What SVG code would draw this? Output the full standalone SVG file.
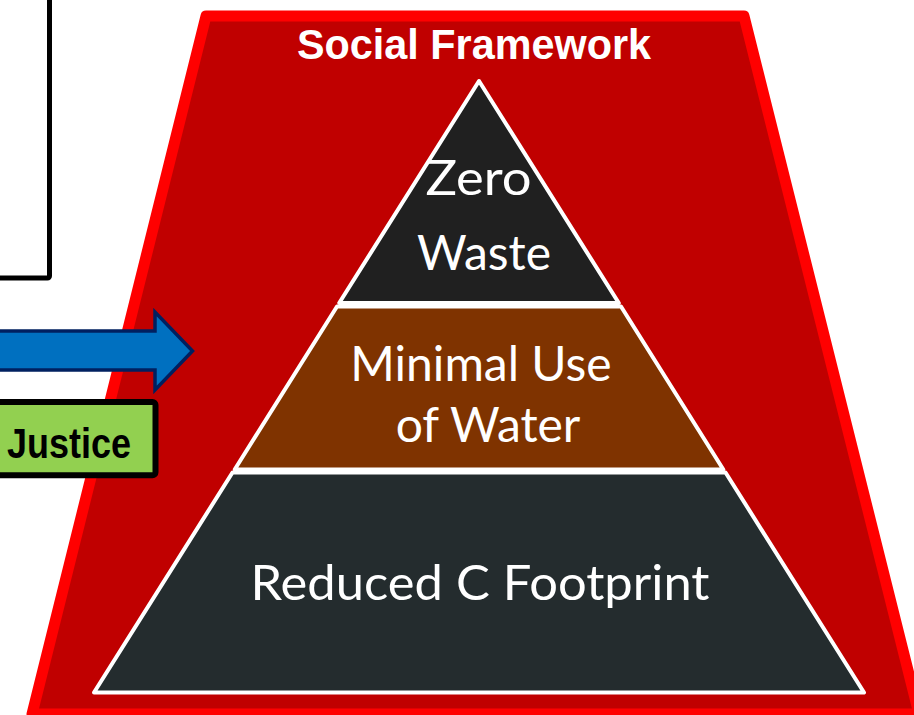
<svg xmlns="http://www.w3.org/2000/svg" width="914" height="715" viewBox="0 0 914 715">
  <style>
    .frame { fill: #C00000; stroke: #FF0000; stroke-width: 11; stroke-linejoin: round; }
    .seg { stroke: #FFFFFF; stroke-width: 4; stroke-linejoin: round; }
    .lvl { font-family: Lato, "Open Sans", "Liberation Sans", sans-serif; font-size: 48px; fill: #FFFFFF; text-anchor: middle; }
    .bold { font-family: "Liberation Sans", Arial, sans-serif; font-weight: bold; }
  </style>
  <rect width="914" height="715" fill="#FFFFFF"/>

  <g id="social-framework">
    <polygon class="frame" points="206,16 744,16 919,714 32,714"/>
    <text class="bold" x="474" y="59" font-size="43" fill="#FFFFFF" text-anchor="middle" textLength="354" lengthAdjust="spacingAndGlyphs">Social Framework</text>
  </g>

  <g id="left-box">
    <rect x="-10" y="-10" width="59.5" height="288" rx="2" fill="#FFFFFF" stroke="#000000" stroke-width="5"/>
  </g>

  <g id="zero-waste">
    <polygon class="seg" fill="#202020" points="479,81 618.8,303 339.2,303"/>
    <text class="lvl" x="478.5" y="195" textLength="106" lengthAdjust="spacingAndGlyphs">Zero</text>
    <text class="lvl" x="484" y="270">Waste</text>
  </g>

  <g id="minimal-use-of-water">
    <polygon class="seg" fill="#7F3300" points="337,306.5 621,306.5 723.3,469.5 234.7,469.5"/>
    <text class="lvl" x="481" y="381">Minimal Use</text>
    <text class="lvl" x="488" y="442">of Water</text>
  </g>

  <g id="reduced-c-footprint">
    <polygon class="seg" fill="#242C2E" points="232.5,472.5 725.5,472.5 864,692.5 94,692.5"/>
    <text class="lvl" x="480" y="600" textLength="459" lengthAdjust="spacingAndGlyphs">Reduced C Footprint</text>
  </g>

  <g id="connectors">
    <path d="M -10,331 L 155,331 L 155,312 L 192.5,351 L 155,390 L 155,370 L -10,370 Z" fill="#0070C0" stroke="#002060" stroke-width="3.5" stroke-linejoin="miter"/>
  </g>

  <g id="justice">
    <rect x="-10" y="402" width="165.5" height="73.3" rx="3" fill="#92D050" stroke="#000000" stroke-width="6"/>
    <text class="bold" x="7" y="458" font-size="42" fill="#000000" textLength="124" lengthAdjust="spacingAndGlyphs">Justice</text>
  </g>
</svg>
